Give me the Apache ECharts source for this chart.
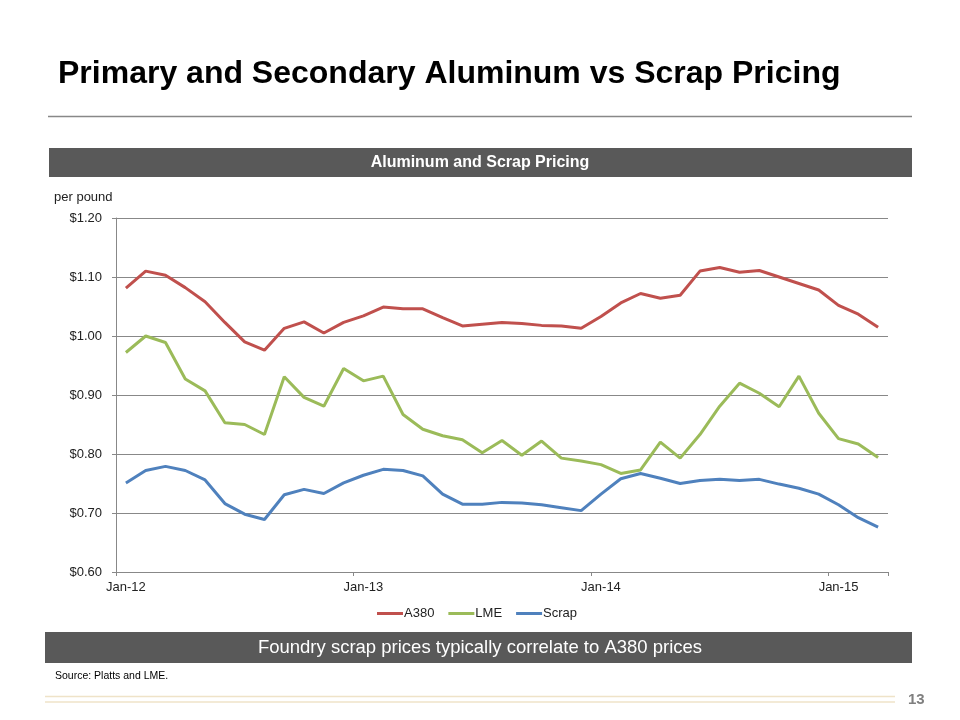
<!DOCTYPE html>
<html>
<head>
<meta charset="utf-8">
<script src="https://cdn.jsdelivr.net/npm/echarts@6/dist/echarts.min.js"></script>
<style>
html,body{margin:0;padding:0;background:#fff;}
#chart{width:960px;height:720px;}
</style>
</head>
<body>
<div id="chart"></div>
<script>
// Months Jan-12 .. Mar-15
const months = ['Jan-12','Feb-12','Mar-12','Apr-12','May-12','Jun-12','Jul-12','Aug-12','Sep-12','Oct-12','Nov-12','Dec-12',
  'Jan-13','Feb-13','Mar-13','Apr-13','May-13','Jun-13','Jul-13','Aug-13','Sep-13','Oct-13','Nov-13','Dec-13',
  'Jan-14','Feb-14','Mar-14','Apr-14','May-14','Jun-14','Jul-14','Aug-14','Sep-14','Oct-14','Nov-14','Dec-14',
  'Jan-15','Feb-15','Mar-15'];

const a380 = [1.081,1.110,1.103,1.082,1.058,1.023,0.990,0.976,1.013,1.024,1.005,1.023,
  1.034,1.049,1.046,1.046,1.031,1.017,1.020,1.023,1.021,1.018,1.017,1.013,
  1.033,1.056,1.072,1.064,1.069,1.110,1.116,1.108,1.111,1.100,1.089,1.078,
  1.052,1.037,1.015];

const lme = [0.972,1.000,0.989,0.927,0.907,0.853,0.850,0.833,0.931,0.896,0.881,0.945,
  0.924,0.932,0.867,0.842,0.831,0.824,0.802,0.823,0.798,0.822,0.793,0.788,
  0.782,0.767,0.773,0.820,0.793,0.833,0.881,0.920,0.903,0.880,0.932,0.869,
  0.826,0.817,0.794];

const scrap = [0.751,0.772,0.779,0.772,0.756,0.716,0.698,0.689,0.731,0.740,0.733,0.751,
  0.764,0.774,0.772,0.763,0.732,0.715,0.715,0.718,0.717,0.714,0.709,0.704,
  0.732,0.758,0.767,0.759,0.750,0.755,0.757,0.755,0.757,0.749,0.742,0.732,
  0.714,0.692,0.676];

const yTicks = [0.60,0.70,0.80,0.90,1.00,1.10,1.20];

const chart = echarts.init(document.getElementById('chart'), null, {renderer:'canvas'});
const FONT = '"Liberation Sans", Arial, sans-serif';

chart.setOption({
  backgroundColor:'#ffffff',
  animation:false,
  textStyle:{fontFamily:FONT},
  grid:{left:116, right:72, top:218, bottom:148, containLabel:false},
  legend:{
    data:['A380','LME','Scrap'],
    left:372, top:602,
    icon:'rect', itemWidth:26, itemHeight:3, itemGap:14,
    textStyle:{fontFamily:FONT, fontSize:13, color:'#222', padding:[0,0,0,-4]}
  },
  xAxis:{
    type:'category',
    data:months,
    boundaryGap:true,
    axisLine:{show:true, lineStyle:{color:'#888', width:1}},
    axisTick:{show:true, interval:11, length:4, lineStyle:{color:'#888'}},
    axisLabel:{interval:11, margin:9, fontFamily:FONT, fontSize:13, color:'#222'},
    splitLine:{show:false}
  },
  yAxis:{
    type:'value',
    min:yTicks[0], max:yTicks[yTicks.length-1], interval:0.1,
    axisLine:{show:true, lineStyle:{color:'#888', width:1}},
    axisTick:{show:true, length:4, lineStyle:{color:'#888'}},
    axisLabel:{margin:14, fontFamily:FONT, fontSize:13, color:'#222',
      formatter:function(v){return '$' + v.toFixed(2);}},
    splitLine:{show:true, lineStyle:{color:'#888', width:1}}
  },
  series:[
    {name:'A380', type:'line', data:a380, symbol:'none', lineStyle:{color:'#C0504D', width:3}, itemStyle:{color:'#C0504D'}},
    {name:'LME', type:'line', data:lme, symbol:'none', lineStyle:{color:'#9BBB59', width:3}, itemStyle:{color:'#9BBB59'}},
    {name:'Scrap', type:'line', data:scrap, symbol:'none', lineStyle:{color:'#4F81BD', width:3}, itemStyle:{color:'#4F81BD'}}
  ],
  graphic:[
    {type:'text', left:58, top:58, style:{text:'Primary and Secondary Aluminum vs Scrap Pricing', font:'bold 32px "Liberation Sans", Arial, sans-serif', fill:'#000'}},
    {type:'line', shape:{x1:48, y1:116.5, x2:912, y2:116.5}, style:{stroke:'#888', lineWidth:1.5}},
    {type:'rect', shape:{x:49, y:148, width:863, height:29}, style:{fill:'#595959'}},
    {type:'text', x:480, y:162.5, style:{text:'Aluminum and Scrap Pricing', font:'bold 16px "Liberation Sans", Arial, sans-serif', fill:'#fff', align:'center', verticalAlign:'middle'}},
    {type:'text', x:54, y:197, style:{text:'per pound', font:'13px "Liberation Sans", Arial, sans-serif', fill:'#222', verticalAlign:'middle'}},
    {type:'rect', shape:{x:45, y:632, width:867, height:31}, style:{fill:'#595959'}},
    {type:'text', x:480, y:647.5, style:{text:'Foundry scrap prices typically correlate to A380 prices', font:'18.5px "Liberation Sans", Arial, sans-serif', fill:'#fff', align:'center', verticalAlign:'middle'}},
    {type:'text', x:55, y:676, style:{text:'Source: Platts and LME.', font:'10.5px "Liberation Sans", Arial, sans-serif', fill:'#000', verticalAlign:'middle'}},
    {type:'line', shape:{x1:45, y1:696.5, x2:895, y2:696.5}, style:{stroke:'#efe3c8', lineWidth:1.5}},
    {type:'line', shape:{x1:45, y1:702, x2:895, y2:702}, style:{stroke:'#efe3c8', lineWidth:1.5}},
    {type:'text', x:908, y:700, style:{text:'13', font:'bold 15px "Liberation Sans", Arial, sans-serif', fill:'#7f7f7f', verticalAlign:'middle'}}
  ]
});
</script>
</body>
</html>
